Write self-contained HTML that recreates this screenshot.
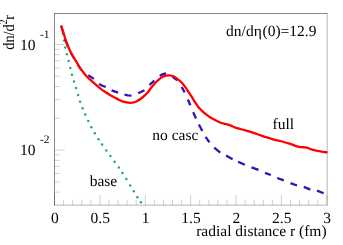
<!DOCTYPE html>
<html><head><meta charset="utf-8"><title>plot</title>
<style>
html,body{margin:0;padding:0;background:#fff;}
body{width:343px;height:245px;overflow:hidden;}
svg{display:block;will-change:transform;}
text{font-family:"Liberation Serif",serif;font-size:15.5px;fill:#000;text-rendering:geometricPrecision;}
.s{font-size:11.5px;}
</style></head><body>
<svg width="343" height="245" viewBox="0 0 343 245">
<rect width="343" height="245" fill="#fff"/>
<path d="M54.50,205.00V194.80M63.58,205.00V199.80M72.65,205.00V199.80M81.73,205.00V199.80M90.81,205.00V199.80M99.88,205.00V194.80M108.96,205.00V199.80M118.04,205.00V199.80M127.12,205.00V199.80M136.19,205.00V199.80M145.27,205.00V194.80M154.35,205.00V199.80M163.42,205.00V199.80M172.50,205.00V199.80M181.58,205.00V199.80M190.66,205.00V194.80M199.73,205.00V199.80M208.81,205.00V199.80M217.89,205.00V199.80M226.96,205.00V199.80M236.04,205.00V194.80M245.12,205.00V199.80M254.19,205.00V199.80M263.27,205.00V199.80M272.35,205.00V199.80M281.42,205.00V194.80M290.50,205.00V199.80M299.58,205.00V199.80M308.66,205.00V199.80M317.73,205.00V199.80M326.81,205.00V194.80M54.50,44.40H64.70M54.50,150.10H64.70M54.50,118.28H59.70M54.50,99.67H59.70M54.50,86.46H59.70M54.50,76.22H59.70M54.50,67.85H59.70M54.50,60.77H59.70M54.50,54.64H59.70M54.50,49.24H59.70M54.50,192.16H59.70M54.50,181.92H59.70M54.50,173.55H59.70M54.50,166.47H59.70M54.50,160.34H59.70M54.50,154.94H59.70" stroke="#000" stroke-width="0.19" fill="none"/>
<path d="M54.25,13.50H327.45M54.50,13.25V205.40" stroke="#000" stroke-width="0.47" fill="none"/>
<path d="M54.25,205.15H327.45M327.20,13.25V205.40" stroke="#000" stroke-width="0.29" fill="none"/>
<g fill="#27a86e"><circle cx="63.0" cy="33.8" r="1.25"/><circle cx="64.1" cy="40.5" r="1.25"/><circle cx="65.3" cy="47.6" r="1.25"/><circle cx="66.8" cy="54.3" r="1.25"/><circle cx="68.6" cy="61.1" r="1.25"/><circle cx="70.3" cy="67.9" r="1.25"/><circle cx="71.9" cy="74.8" r="1.25"/><circle cx="74.0" cy="81.5" r="1.25"/><circle cx="76.0" cy="88.1" r="1.25"/><circle cx="78.1" cy="95.0" r="1.25"/><circle cx="80.1" cy="101.7" r="1.25"/><circle cx="82.6" cy="108.3" r="1.25"/><circle cx="85.2" cy="114.6" r="1.25"/><circle cx="88.3" cy="121.1" r="1.25"/><circle cx="91.3" cy="127.2" r="1.25"/><circle cx="94.8" cy="133.2" r="1.25"/><circle cx="98.5" cy="139.3" r="1.25"/><circle cx="102.1" cy="144.6" r="1.25"/><circle cx="106.3" cy="150.6" r="1.25"/><circle cx="110.4" cy="156.1" r="1.25"/><circle cx="114.6" cy="161.7" r="1.25"/><circle cx="118.9" cy="167.4" r="1.25"/><circle cx="122.5" cy="173.0" r="1.25"/><circle cx="126.4" cy="179.1" r="1.25"/><circle cx="130.2" cy="185.4" r="1.25"/><circle cx="133.8" cy="191.3" r="1.25"/><circle cx="137.4" cy="197.2" r="1.25"/><circle cx="140.9" cy="202.3" r="1.25"/></g>
<path d="M61.00,26.15 C61.24,26.85 61.96,28.80 62.45,30.35 C62.94,31.90 63.47,33.82 63.95,35.45 C64.43,37.08 64.78,38.52 65.35,40.15 C65.92,41.78 66.65,43.55 67.35,45.25 C68.05,46.95 68.73,48.65 69.55,50.35 C70.37,52.05 71.30,53.78 72.25,55.45 C73.20,57.12 74.35,58.87 75.25,60.35 C76.15,61.83 76.90,63.10 77.65,64.35 C78.40,65.60 78.55,66.13 79.75,67.85 C80.95,69.57 84.00,73.52 84.85,74.65" stroke="#3311b3" stroke-width="2.0" fill="none" stroke-dasharray="7 7"/>
<path d="M88.3,75.3 L93.9,78.9" stroke="#3311b3" stroke-width="2.3" fill="none"/>
<path d="M99.0,84.0 L102.4,85.7 L105.8,87.0" stroke="#3311b3" stroke-width="2.3" fill="none"/>
<path d="M111.6,90.3 L118.1,92.6" stroke="#3311b3" stroke-width="2.3" fill="none"/>
<path d="M124.5,94.7 L128.0,95.4 L131.5,95.7" stroke="#3311b3" stroke-width="2.3" fill="none"/>
<path d="M138.2,93.2 L144.5,90.3" stroke="#3311b3" stroke-width="2.3" fill="none"/>
<path d="M149.4,85.0 L154.3,80.7" stroke="#3311b3" stroke-width="2.3" fill="none"/>
<path d="M159.7,75.7 L163.0,74.2 L166.2,73.4" stroke="#3311b3" stroke-width="2.3" fill="none"/>
<path d="M172.6,76.8 L177.4,80.4" stroke="#3311b3" stroke-width="2.3" fill="none"/>
<path d="M181.7,87.0 L184.7,92.4" stroke="#3311b3" stroke-width="2.3" fill="none"/>
<path d="M187.9,99.5 L190.3,105.3" stroke="#3311b3" stroke-width="2.3" fill="none"/>
<path d="M193.2,112.3 L196.0,118.4" stroke="#3311b3" stroke-width="2.3" fill="none"/>
<path d="M198.9,124.5 L202.3,131.0" stroke="#3311b3" stroke-width="2.3" fill="none"/>
<path d="M205.6,136.8 L209.4,142.4" stroke="#3311b3" stroke-width="2.3" fill="none"/>
<path d="M214.2,147.7 L220.3,152.6" stroke="#3311b3" stroke-width="2.3" fill="none"/>
<path d="M226.0,155.6 L232.6,159.3" stroke="#3311b3" stroke-width="2.3" fill="none"/>
<path d="M238.1,161.7 L244.8,164.8" stroke="#3311b3" stroke-width="2.3" fill="none"/>
<path d="M251.5,167.4 L258.5,169.9" stroke="#3311b3" stroke-width="2.3" fill="none"/>
<path d="M265.0,172.8 L270.8,175.0" stroke="#3311b3" stroke-width="2.3" fill="none"/>
<path d="M277.2,178.0 L283.8,180.4" stroke="#3311b3" stroke-width="2.3" fill="none"/>
<path d="M290.5,183.1 L297.0,185.5" stroke="#3311b3" stroke-width="2.3" fill="none"/>
<path d="M303.8,186.9 L310.3,189.6" stroke="#3311b3" stroke-width="2.3" fill="none"/>
<path d="M317.0,190.6 L323.6,193.3" stroke="#3311b3" stroke-width="2.3" fill="none"/>
<path d="M61.35,26.25 C61.59,26.95 62.31,28.90 62.80,30.45 C63.29,32.00 63.82,33.92 64.30,35.55 C64.78,37.18 65.13,38.62 65.70,40.25 C66.27,41.88 67.00,43.65 67.70,45.35 C68.40,47.05 69.08,48.75 69.90,50.45 C70.72,52.15 71.65,53.88 72.60,55.55 C73.55,57.22 74.70,58.97 75.60,60.45 C76.50,61.93 77.25,63.20 78.00,64.45 C78.75,65.70 78.90,66.23 80.10,67.95 C81.30,69.67 83.52,72.80 85.20,74.75 C86.88,76.70 88.53,78.08 90.20,79.65 C91.87,81.22 93.53,82.70 95.20,84.15 C96.87,85.60 98.52,87.03 100.20,88.35 C101.88,89.67 103.60,90.92 105.30,92.05 C107.00,93.18 108.70,94.17 110.40,95.15 C112.10,96.13 114.23,97.25 115.50,97.95 C116.77,98.65 116.73,98.73 118.00,99.35 C119.27,99.97 121.40,101.10 123.10,101.65 C124.80,102.20 126.67,102.48 128.20,102.65 C129.73,102.82 130.93,102.85 132.30,102.65 C133.67,102.45 135.05,102.05 136.40,101.45 C137.75,100.85 139.05,100.02 140.40,99.05 C141.75,98.08 143.13,96.92 144.50,95.65 C145.87,94.38 147.60,92.63 148.60,91.45 C149.60,90.27 149.58,89.77 150.50,88.55 C151.42,87.33 152.82,85.57 154.10,84.15 C155.38,82.73 156.83,81.25 158.20,80.05 C159.57,78.85 160.93,77.70 162.30,76.95 C163.67,76.20 165.22,75.82 166.40,75.55 C167.58,75.28 168.22,75.23 169.40,75.35 C170.58,75.47 172.13,75.63 173.50,76.25 C174.87,76.87 176.17,77.93 177.60,79.05 C179.03,80.17 180.83,81.63 182.10,82.95 C183.37,84.27 184.17,85.52 185.20,86.95 C186.23,88.38 187.28,90.02 188.30,91.55 C189.32,93.08 190.15,94.33 191.30,96.15 C192.45,97.97 194.03,100.65 195.20,102.45 C196.37,104.25 197.12,105.52 198.30,106.95 C199.48,108.38 200.95,109.78 202.30,111.05 C203.65,112.32 205.03,113.48 206.40,114.55 C207.77,115.62 209.07,116.53 210.50,117.45 C211.93,118.37 213.40,119.22 215.00,120.05 C216.60,120.88 218.40,121.80 220.10,122.45 C221.80,123.10 223.50,123.47 225.20,123.95 C226.90,124.43 228.60,124.75 230.30,125.35 C232.00,125.95 233.70,126.93 235.40,127.55 C237.10,128.17 238.80,128.57 240.50,129.05 C242.20,129.53 244.02,130.02 245.60,130.45 C247.18,130.88 248.43,131.17 250.00,131.65 C251.57,132.13 252.98,132.65 255.00,133.35 C257.02,134.05 260.43,135.25 262.10,135.85 C263.77,136.45 263.15,136.37 265.00,136.95 C266.85,137.53 270.48,138.63 273.20,139.35 C275.92,140.07 278.58,140.53 281.30,141.25 C284.02,141.97 286.77,142.77 289.50,143.65 C292.23,144.53 295.67,145.97 297.70,146.55 C299.73,147.13 300.18,146.98 301.70,147.15 C303.22,147.32 305.10,147.13 306.80,147.55 C308.50,147.97 309.85,149.07 311.90,149.65 C313.95,150.23 316.67,150.62 319.10,151.05 C321.53,151.48 325.27,152.05 326.50,152.25" stroke="#ff0000" stroke-width="2.3" fill="none" stroke-linejoin="round" stroke-linecap="round"/>
<text x="226.1" y="36.1">dn/d<tspan dx="0.2">η</tspan><tspan dx="0.5">(0)=12.9</tspan></text>
<text x="272.5" y="129.0">full</text>
<text x="152.3" y="139.9">no casc</text>
<text x="89.7" y="186.0">base</text>
<text x="54.8" y="223" text-anchor="middle">0</text>
<text x="100.2" y="223" text-anchor="middle">0.5</text>
<text x="145.6" y="223" text-anchor="middle">1</text>
<text x="191.0" y="223" text-anchor="middle">1.5</text>
<text x="236.3" y="223" text-anchor="middle">2</text>
<text x="281.7" y="223" text-anchor="middle">2.5</text>
<text x="327.1" y="223" text-anchor="middle">3</text>
<text x="326.6" y="235.7" text-anchor="end">radial distance r (fm)</text>
<text x="20.0" y="50">10</text><text class="s" x="40.0" y="38.2">-1</text>
<text x="20.0" y="155.2">10</text><text class="s" x="40.0" y="143.0">-2</text>
<text transform="translate(13.7,49.7) rotate(-90) scale(0.9,1)" style="font-size:15.8px">dn/d<tspan class="s" dy="-6.5">2</tspan><tspan dy="6.5" dx="-0.6">r</tspan></text>
</svg></body></html>
